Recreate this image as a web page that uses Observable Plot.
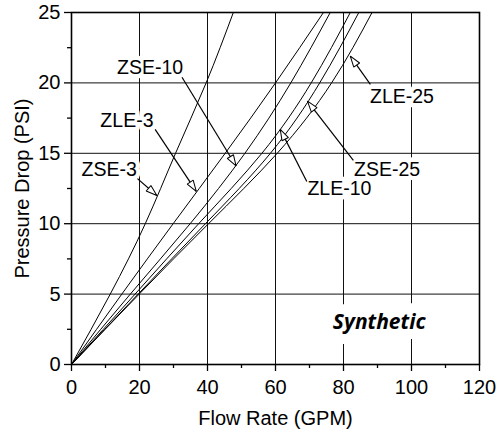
<!DOCTYPE html>
<html>
<head>
<meta charset="utf-8">
<script src="https://cdn.jsdelivr.net/npm/d3@7"></script>
<script src="https://cdn.jsdelivr.net/npm/@observablehq/plot@0.6"></script>
<style>
  html, body { margin: 0; padding: 0; background: white; }
</style>
</head>
<body>
<div id="chart"></div>
<script>
// Tick values
const gpmTicks = [0, 20, 40, 60, 80, 100, 120];
const gpmMinor = [10, 30, 50, 70, 90, 110];
const gpmGrid = [20, 40, 60, 80, 100];
const psiTicks = [0, 5, 10, 15, 20, 25];
const psiMinor = [2.5, 7.5, 12.5, 17.5, 22.5];
const psiGrid = [5, 10, 15, 20];

// Series: flow rate (GPM) read at each pressure-drop level (PSI)
const models = ["ZSE-3", "ZLE-3", "ZSE-10", "ZLE-10", "ZSE-25", "ZLE-25"];
const psiLevels = [0, 5, 10, 15, 20, 25];
const zse3 = [0, 11.4, 21.7, 30.6, 39.6, 47.6];
const zle3 = [0, 14.8, 29.9, 45.2, 60.0, 74.1];
const zse10 = [0, 17.3, 34.9, 51.0, 64.5, 76.1];
const zle10 = [0, 18.7, 37.4, 56.0, 70.5, 82.0];
const zse25 = [0, 19.6, 39.4, 58.5, 73.0, 84.5];
const zle25 = [0, 19.9, 40.3, 60.5, 76.5, 88.4];

// Annotation labels and leader arrows (in data units)
const labelX = [11.1, 16.3, 23.1, 78.8, 92.8, 97.2];
const labelY = [13.8, 17.3, 21.1, 12.5, 13.8, 19.0];
const arrowX1 = [19.4, 24.6, 32.5, 69.2, 82.9, 87.9];
const arrowY1 = [13.2, 16.7, 20.4, 13.0, 14.5, 19.9];
const arrowX2 = [25.1, 36.7, 48.4, 61.4, 69.4, 82.0];
const arrowY2 = [12.0, 12.3, 14.1, 16.7, 18.7, 21.9];

const tagText = ["Synthetic"];
const tagX = [90.5];
const tagY = [3.0];

const flows = [zse3, zle3, zse10, zle10, zse25, zle25];
const rows = models.flatMap((m, i) =>
  psiLevels.map((p, j) => ({model: m, gpm: flows[i][j], psi: p}))
);
const labels = models.map((m, i) => ({text: m, x: labelX[i], y: labelY[i]}));
const arrows = models.map((m, i) => ({x1: arrowX1[i], y1: arrowY1[i], x2: arrowX2[i], y2: arrowY2[i]}));
const tags = tagText.map((t, i) => ({text: t, x: tagX[i], y: tagY[i]}));

function openTriangle(color) {
  const ns = "http://www.w3.org/2000/svg";
  const m = document.createElementNS(ns, "marker");
  m.setAttribute("viewBox", "-12 -5 13 10");
  m.setAttribute("markerWidth", "13");
  m.setAttribute("markerHeight", "10");
  m.setAttribute("markerUnits", "userSpaceOnUse");
  m.setAttribute("refX", "0");
  m.setAttribute("refY", "0");
  m.setAttribute("orient", "auto");
  const p = document.createElementNS(ns, "path");
  p.setAttribute("d", "M0,0L-11,-3.6L-11,3.6Z");
  p.setAttribute("fill", "white");
  p.setAttribute("stroke", color);
  p.setAttribute("stroke-width", "1");
  m.appendChild(p);
  return m;
}

const font = "'Liberation Sans', Arial, sans-serif";

const chart = Plot.plot({
  width: 502,
  height: 432,
  marginLeft: 71,
  marginRight: 23,
  marginTop: 12,
  marginBottom: 68,
  style: {fontFamily: font, fontSize: "20px", background: "white", color: "black"},
  x: {domain: [0, 120]},
  y: {domain: [0, 25]},
  marks: [
    Plot.gridX(gpmGrid, {stroke: "#111", strokeOpacity: 1, strokeWidth: 1}),
    Plot.gridY(psiGrid, {stroke: "#111", strokeOpacity: 1, strokeWidth: 1}),
    Plot.text(labels, {x: "x", y: "y", text: "text", fill: "black", stroke: "white", strokeWidth: 9, fontSize: 19.5}),
    Plot.text(tags, {x: "x", y: "y", text: "text", fill: "black", stroke: "white", strokeWidth: 20,
      fontSize: 21, fontWeight: "bold", fontStyle: "italic", fontFamily: "'Open Sans', sans-serif"}),
    Plot.line(rows, {x: "gpm", y: "psi", z: "model", stroke: "black", strokeWidth: 1, curve: "natural", clip: true}),
    Plot.link(arrows, {x1: "x1", y1: "y1", x2: "x2", y2: "y2", stroke: "black", strokeWidth: 1.2, markerEnd: openTriangle}),
    Plot.frame({stroke: "black", strokeWidth: 1.6}),
    Plot.axisX(gpmTicks, {tickSize: 7, tickPadding: 8, strokeWidth: 1.3, label: "Flow Rate (GPM)", labelAnchor: "center", labelArrow: "none", labelOffset: 60}),
    Plot.axisX(gpmMinor, {tickSize: 4, strokeWidth: 1.3, tickFormat: () => "", label: null}),
    Plot.axisY(psiTicks, {tickSize: 7, tickPadding: 4, strokeWidth: 1.3, label: "Pressure Drop (PSI)", labelAnchor: "center", labelArrow: "none", labelOffset: 57}),
    Plot.axisY(psiMinor, {tickSize: 4, strokeWidth: 1.3, tickFormat: () => "", label: null})
  ]
});
document.getElementById("chart").appendChild(chart);
</script>
</body>
</html>
